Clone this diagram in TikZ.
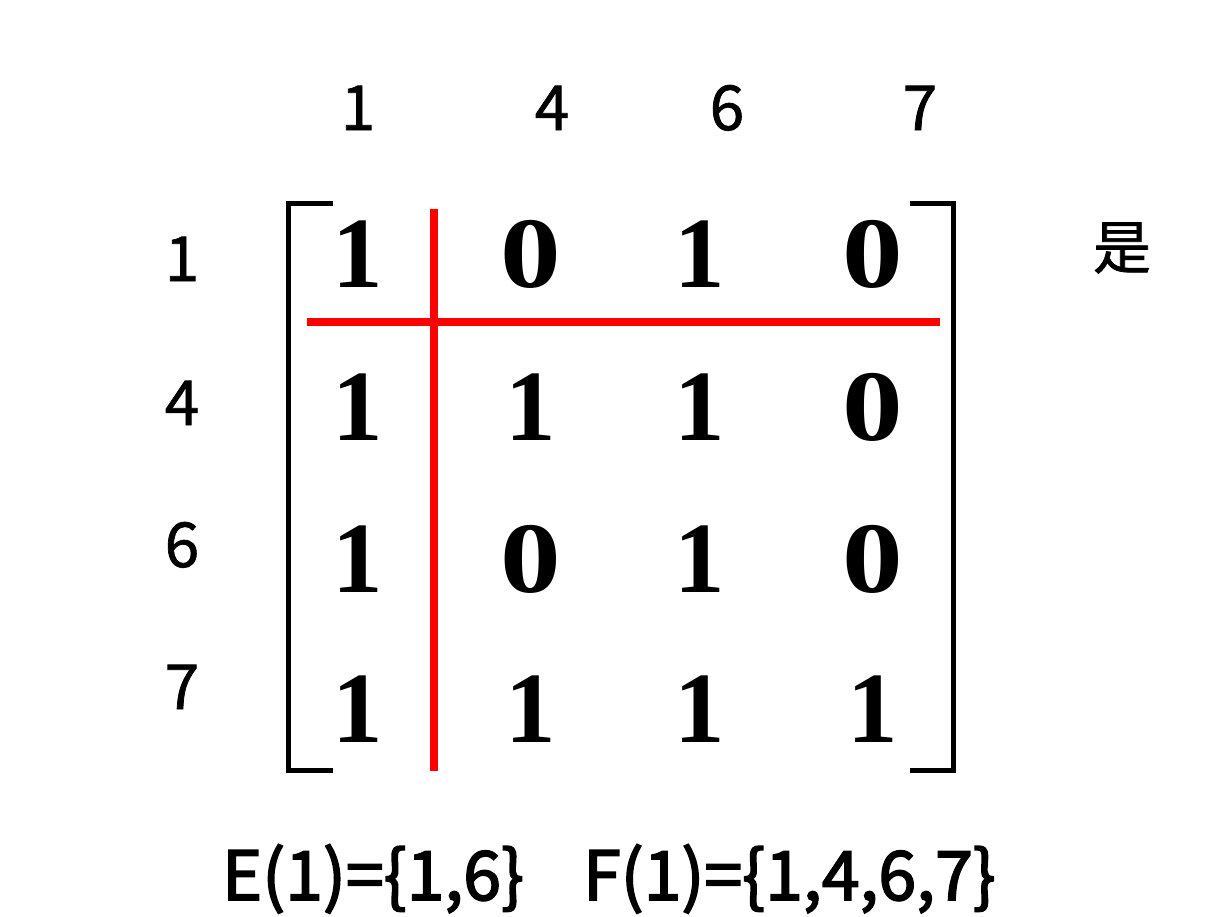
\documentclass[tikz,border=0pt]{standalone}
\usepackage{fontspec}
\newfontfamily\entfont{Liberation Serif}
\newfontfamily\cjk[FakeBold=1.2]{Noto Sans CJK SC}
\newfontfamily\cjkb[FakeBold=2.5]{Noto Sans CJK SC}
\newcommand\dg[1]{\ifnum#1=0 \scalebox{1.2}[1]{0}\else #1\fi}
\begin{document}
\begin{tikzpicture}[x=1pt,y=-1pt,
  ent/.style={font=\entfont\fontsize{101}{101}\selectfont\bfseries, anchor=base, inner sep=0pt},
  lab/.style={font=\cjk\fontsize{62}{62}\selectfont, anchor=base, inner sep=0pt},
  brk/.style={line width=5pt, line cap=rect},
  cut/.style={line width=8pt, red}]
\useasboundingbox (0,0) rectangle (1222,916);
% column labels
\node[lab] (c1) at (358,130) {1};
\node[lab] (c4) at (552,130) {4};
\node[lab] (c6) at (727,130) {6};
\node[lab] (c7) at (920,130) {7};
% row labels
\node[lab] (r1) at (182,281) {1};
\node[lab] (r4) at (182,425) {4};
\node[lab] (r6) at (182,567) {6};
\node[lab] (r7) at (182,709) {7};
% entries
\foreach \r/\y/\a/\b/\c/\d in {1/287/1/0/1/0, 2/440/1/1/1/0, 3/592/1/0/1/0, 4/742/1/1/1/1}{
  \node[ent] (m\r a) at (358,\y) {\dg{\a}};
  \node[ent] (m\r b) at (531,\y) {\dg{\b}};
  \node[ent] (m\r c) at (700,\y) {\dg{\c}};
  \node[ent] (m\r d) at (873,\y) {\dg{\d}};
}
% brackets
\coordinate (lt) at (330,203); \coordinate (lb) at (330,770);
\coordinate (rt) at (912,203); \coordinate (rb) at (912,770);
\draw[brk] (lt) -- (288.5,203) -- (288.5,770) -- (lb);
\draw[brk] (rt) -- (953,203) -- (953,770) -- (rb);
% red cut lines
\coordinate (h1) at (307,322); \coordinate (h2) at (940,322);
\coordinate (v1) at (434,209); \coordinate (v2) at (434,771);
\draw[cut] (h1) -- (h2);
\draw[cut] (v1) -- (v2);
% side label
\node[font=\cjk\fontsize{58}{58}\selectfont, inner sep=0pt] (yes) at (1122,248) {是};
% bottom text
\node[font=\cjkb\fontsize{68}{68}\selectfont, anchor=base west, inner sep=0pt] (E) at (222,900) {E(1)=\{1,6\}};
\node[font=\cjkb\fontsize{68}{68}\selectfont, anchor=base west, inner sep=0pt] (F) at (583,900) {F(1)=\{1,4,6,7\}};
\end{tikzpicture}
\end{document}
